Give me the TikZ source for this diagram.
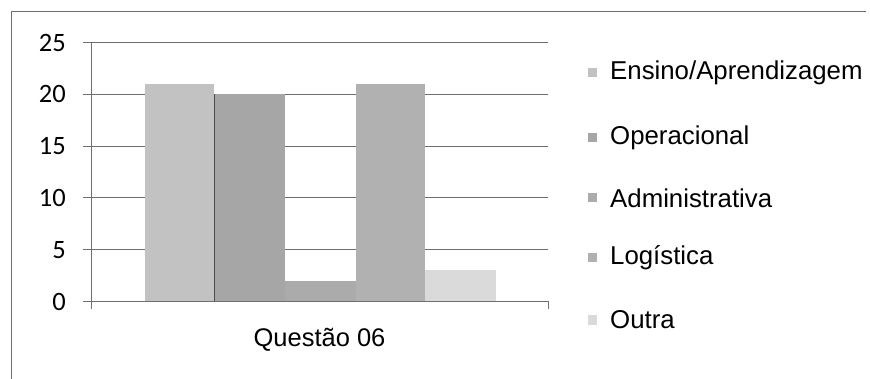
\documentclass[tikz,border=0pt]{standalone}
\usepackage{fontspec}
\setmainfont{Liberation Sans}
\newfontfamily\axisfont{Carlito}
\definecolor{cA}{HTML}{C2C2C2}
\definecolor{cB}{HTML}{A6A6A6}
\definecolor{cC}{HTML}{ABABAB}
\definecolor{cD}{HTML}{B1B1B1}
\definecolor{cE}{HTML}{DADADA}
\definecolor{gridc}{HTML}{6E6E6E}
\begin{document}
\begin{tikzpicture}[x=1pt,y=-1pt,
  gridline/.style={draw=gridc,line width=0.8pt},
  frameline/.style={draw=gridc,line width=0.9pt},
  ylab/.style={font=\axisfont\fontsize{26.5}{26.5}\selectfont,anchor=east,inner sep=0pt},
  legtext/.style={font=\fontsize{25.8}{26}\selectfont,anchor=west,inner sep=0pt},
  bar/.style={draw=none},
  legmark/.style={minimum size=9pt,inner sep=0pt,draw=none}]
\useasboundingbox (0,0) rectangle (870,379);
% outer frame
\draw[frameline] (11,379) -- (11,11) -- (866,11);
% gridlines & ticks
\foreach \v/\yy in {0/301.5,5/249.7,10/197.9,15/146.1,20/94.3,25/42.5}{
  \draw[gridline] (83,\yy) -- (548,\yy);
  \node[ylab] (yl\v) at (66,\yy) {\v};
}
% axes
\draw[gridline] (91,42.5) -- (91,309);
\draw[gridline] (548,301.5) -- (548,309);
% bars
\fill[cA] (144.5,83.9) rectangle (214,301.5);
\fill[cB] (214,94.3) rectangle (284.5,301.5);
\draw[gray!60!black,line width=0.6pt] (214,94.3) -- (214,301.5);
\fill[cC] (284.5,280.8) rectangle (355.5,301.5);
\fill[cD] (355.5,83.9) rectangle (425,301.5);
\fill[cE] (425,270.4) rectangle (495.5,301.5);
% category label
\node[font=\fontsize{25.5}{26}\selectfont,inner sep=0pt] (cat) at (319.5,340) {Questão 06};
% legend
\foreach \n/\c/\t/\yy in {a/cA/Ensino\slash Aprendizagem/73,b/cB/Operacional/138,c/cC/Administrativa/198,d/cD/Logística/258,e/cE/Outra/320}{
  \node[legmark,fill=\c] (m\n) at (592,\yy) {};
  \node[legtext] (t\n) at (610,\yy) {\t};
}
\end{tikzpicture}
\end{document}
